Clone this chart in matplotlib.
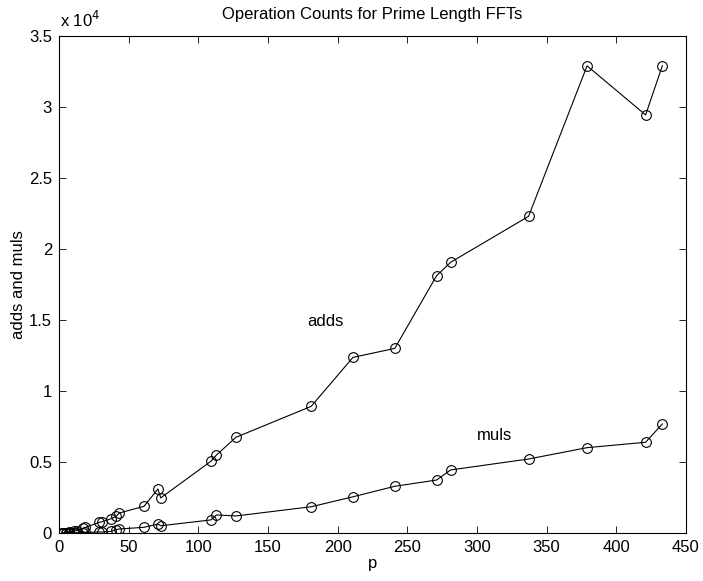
import numpy as np
import matplotlib.pyplot as plt
from matplotlib.ticker import FuncFormatter

plt.rcParams['font.family'] = ['Liberation Sans', 'DejaVu Sans']
plt.rcParams['font.size'] = 12

# prime lengths and operation counts
p = [2, 3, 5, 7, 11, 13, 17, 19, 29, 31, 37, 41, 43, 61, 71, 73,
     109, 113, 127, 181, 211, 241, 271, 281, 337, 379, 421, 433]
adds = [4, 12, 34, 72, 140, 170, 320, 400, 750, 800, 990, 1170, 1400,
        1880, 3100, 2470, 5050, 5490, 6740, 8920, 12370, 13000,
        18120, 19060, 22300, 32900, 29440, 32900]
muls = [0, 2, 5, 8, 20, 20, 35, 38, 75, 70, 110, 240, 280,
        400, 630, 510, 920, 1270, 1200, 1850, 2550, 3290,
        3730, 4440, 5210, 6010, 6390, 7680]

fig = plt.figure(figsize=(7.03, 5.81), dpi=100)
# axes box: x 59..686 px, y 36..533 px
ax = fig.add_axes([59 / 703, 48 / 581, 627 / 703, 497 / 581])

ax.plot(p, adds, color='k', lw=0.8, marker='o', ms=7, mfc='none', mec='k', mew=0.8)
ax.plot(p, muls, color='k', lw=0.8, marker='o', ms=7, mfc='none', mec='k', mew=0.8)

ax.text(178, 14860, 'adds', va='center', ha='left')
ax.text(300, 6900, 'muls', va='center', ha='left')

ax.set_xlim(0, 450)
ax.set_ylim(0, 35000)
ax.set_xticks(np.arange(0, 451, 50))
ax.set_yticks(np.arange(0, 35001, 5000))
ax.yaxis.set_major_formatter(FuncFormatter(lambda v, pos: ('%g' % (v / 1e4))))
ax.tick_params(direction='in', top=True, right=True, length=5, width=0.6,
               labelsize=12, pad=5)
for s in ax.spines.values():
    s.set_linewidth(0.8)

ax.text(0.002, 1.012, 'x 10$^4$', transform=ax.transAxes, ha='left', va='bottom')
ax.set_title('Operation Counts for Prime Length FFTs', fontsize=12, pad=12)
ax.set_xlabel('p', labelpad=1)
ax.set_ylabel('adds and muls', labelpad=2)

fig.savefig('out.png', dpi=100)
